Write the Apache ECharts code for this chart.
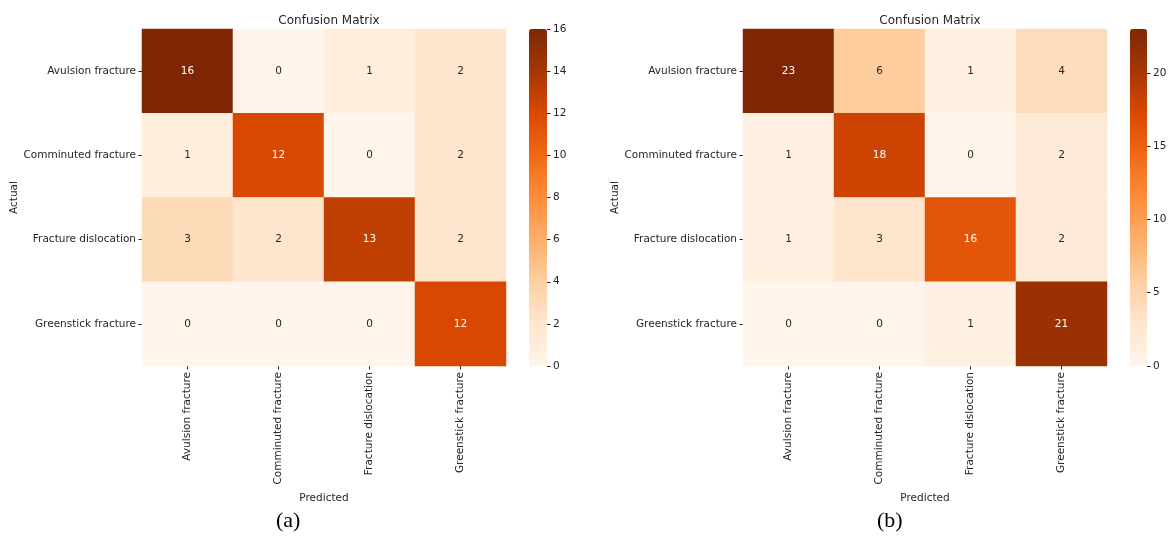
<!DOCTYPE html>
<html>
<head>
<meta charset="utf-8">
<script src="https://cdn.jsdelivr.net/npm/echarts@6/dist/echarts.min.js"></script>
<style>
  body { margin: 0; background: #fff; }
  #main { width: 1171px; height: 537px; }
</style>
</head>
<body>
<div id="main"></div>
<script>
// class labels (rows = actual, columns = predicted)
var classes = ["Avulsion fracture", "Comminuted fracture", "Fracture dislocation", "Greenstick fracture"];

// confusion matrix (a)
var matrixA = [
  [16, 0, 1, 2],
  [1, 12, 0, 2],
  [3, 2, 13, 2],
  [0, 0, 0, 12]
];
// confusion matrix (b)
var matrixB = [
  [23, 6, 1, 4],
  [1, 18, 0, 2],
  [1, 3, 16, 2],
  [0, 0, 1, 21]
];

var maxA = 16;
var maxB = 23;
var ticksA = [0, 2, 4, 6, 8, 10, 12, 14, 16];
var ticksB = [0, 5, 10, 15, 20];

// matplotlib "Oranges"
var oranges = ["#fff5eb", "#fee6ce", "#fdd0a2", "#fdae6b", "#fd8d3c", "#f16913", "#d94801", "#a63603", "#7f2704"];

var font = "DejaVu Sans";
var textColor = "#262626";

function toCells(matrix, max) {
  var out = [];
  matrix.forEach(function (row, r) {
    row.forEach(function (v, c) {
      out.push({
        value: [c, r, v],
        label: { color: v / max >= 0.5 ? "#ffffff" : textColor }
      });
    });
  });
  return out;
}

var chart = echarts.init(document.getElementById("main"));

var grids = [
  { left: 142, top: 29, width: 364, height: 337 },
  { left: 743, top: 29, width: 364, height: 337 },
  // colorbar tick axes, sitting on the right edge of each bar
  { left: 547, top: 29, width: 1, height: 337 },
  { left: 1147, top: 29, width: 1, height: 337 }
];

function catX(gi) {
  return {
    type: "category", gridIndex: gi, data: classes, position: "bottom",
    axisLine: { show: false }, splitArea: { show: false },
    axisTick: { show: true, alignWithLabel: true, length: 3.5, lineStyle: { color: textColor } },
    axisLabel: { rotate: 90, margin: 6, fontFamily: font, fontSize: 10.5, color: textColor },
    name: "Predicted", nameLocation: "middle", nameGap: 113,
    nameTextStyle: { fontFamily: font, fontSize: 10.5, color: textColor }
  };
}
function catY(gi) {
  return {
    type: "category", gridIndex: gi, data: classes, inverse: true,
    axisLine: { show: false }, splitArea: { show: false },
    axisTick: { show: true, alignWithLabel: true, length: 3.5, lineStyle: { color: textColor } },
    axisLabel: { margin: 6, fontFamily: font, fontSize: 10.5, color: textColor },
    name: "Actual", nameLocation: "middle", nameGap: 116, nameRotate: 90,
    nameTextStyle: { fontFamily: font, fontSize: 10.5, color: textColor }
  };
}
function barY(gi, max, ticks) {
  return {
    type: "value", gridIndex: gi, min: 0, max: max, position: "left", z: 10,
    axisLine: { show: false },
    splitLine: { show: false },
    axisTick: { show: true, inside: true, length: 3.5, customValues: ticks, lineStyle: { color: textColor, width: 1 } },
    axisLabel: { inside: true, margin: 6, customValues: ticks, fontFamily: font, fontSize: 10.5, color: textColor }
  };
}

var option = {
  animation: false,
  title: [
    { text: "Confusion Matrix", left: 324, top: 10, textAlign: "center",
      textStyle: { fontFamily: font, fontSize: 12, fontWeight: "normal", color: textColor } },
    { text: "Confusion Matrix", left: 925, top: 10, textAlign: "center",
      textStyle: { fontFamily: font, fontSize: 12, fontWeight: "normal", color: textColor } }
  ],
  grid: grids,
  xAxis: [
    catX(0), catX(1),
    { type: "value", gridIndex: 2, show: false },
    { type: "value", gridIndex: 3, show: false }
  ],
  yAxis: [
    catY(0), catY(1),
    barY(2, maxA, ticksA),
    barY(3, maxB, ticksB)
  ],
  visualMap: [
    { type: "continuous", seriesIndex: 0, min: 0, max: maxA, calculable: false,
      left: 529, top: 29, itemWidth: 18, itemHeight: 337, padding: 0, z: 1,
      inRange: { color: oranges }, text: null, hoverLink: false },
    { type: "continuous", seriesIndex: 1, min: 0, max: maxB, calculable: false,
      left: 1130, top: 29, itemWidth: 17, itemHeight: 337, padding: 0, z: 1,
      inRange: { color: oranges }, text: null, hoverLink: false }
  ],
  graphic: [
    { type: "text", left: 276, top: 510, style: { text: "(a)", font: "22px 'Liberation Serif'", fill: "#000" } },
    { type: "text", left: 877, top: 510, style: { text: "(b)", font: "22px 'Liberation Serif'", fill: "#000" } }
  ],
  series: [
    {
      type: "heatmap", xAxisIndex: 0, yAxisIndex: 0,
      data: toCells(matrixA, maxA),
      label: { show: true, fontFamily: font, fontSize: 10.5,
        formatter: function (p) { return p.value[2]; } },
      emphasis: { disabled: true }
    },
    {
      type: "heatmap", xAxisIndex: 1, yAxisIndex: 1,
      data: toCells(matrixB, maxB),
      label: { show: true, fontFamily: font, fontSize: 10.5,
        formatter: function (p) { return p.value[2]; } },
      emphasis: { disabled: true }
    }
  ]
};

chart.setOption(option);
</script>
</body>
</html>
